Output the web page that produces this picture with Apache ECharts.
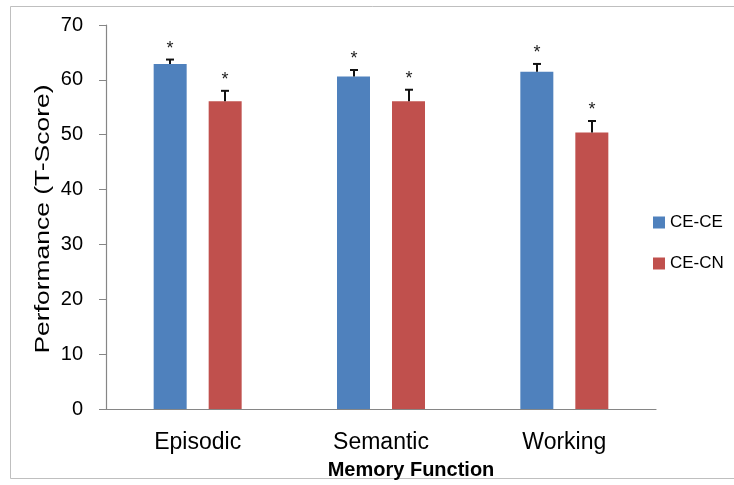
<!DOCTYPE html>
<html><head><meta charset="utf-8">
<script src="https://cdn.jsdelivr.net/npm/echarts@6/dist/echarts.min.js"></script>
<style>html,body{margin:0;padding:0;background:#fff}#c{width:734px;height:485px}</style>
</head><body><div id="c"></div>
<script>
var categories = ['Episodic', 'Semantic', 'Working'];
var seriesNames = ['CE-CE', 'CE-CN'];
var ceceValues = [62.9, 60.6, 61.5];
var ceceErrors = [0.8, 1.2, 1.4];
var cecnValues = [56.1, 56.1, 50.4];
var cecnErrors = [1.9, 2.1, 2.1];
var yTicks = [0, 10, 20, 30, 40, 50, 60, 70];
var yTitle = 'Performance (T-Score)';
var xTitle = 'Memory Function';

var blue = '#4F81BD', red = '#C0504D';
var BAR_W = 33, BAR_GAP = 22;
var chart = echarts.init(document.getElementById('c'));

function errSeries(vals, errs, idx) {
  return {
    type: 'custom',
    z: 10,
    silent: true,
    data: vals.map(function (v, i) { return [i, v, errs[i]]; }),
    renderItem: function (params, api) {
      var i = api.value(0), v = api.value(1), e = api.value(2);
      var center = api.coord([i, 0])[0];
      var off = (BAR_W + BAR_GAP) / 2 * (idx === 0 ? -1 : 1);
      var x = Math.round(center + off);
      var pTop = api.coord([i, v + e]);
      var pBase = api.coord([i, v]);
      return {
        type: 'group',
        children: [
          { type: 'line', shape: { x1: x, y1: pBase[1], x2: x, y2: pTop[1] }, style: { stroke: '#111', lineWidth: 2 } },
          { type: 'line', shape: { x1: x - 4, y1: pTop[1], x2: x + 4, y2: pTop[1] }, style: { stroke: '#111', lineWidth: 2 } },
          { type: 'text', style: { text: '*', x: x, y: pTop[1] - 11, fill: '#222', font: '18px "Liberation Sans"', align: 'center', verticalAlign: 'middle' } }
        ]
      };
    }
  };
}

chart.setOption({
  animation: false,
  textStyle: { fontFamily: '"Liberation Sans", Arial, sans-serif' },
  graphic: [
    { type: 'rect', shape: { x: 10.5, y: 6.5, width: 740, height: 472 }, style: { fill: 'none', stroke: '#bfbfbf', lineWidth: 1 }, silent: true },
    { type: 'text', x: 43, y: 219, rotation: Math.PI / 2, scaleX: 1.26, silent: true,
      style: { text: yTitle, font: '21px "Liberation Sans"', fill: '#000', align: 'center', verticalAlign: 'middle' } }
  ],
  grid: { left: 106, right: 78, top: 25, bottom: 76 },
  legend: {
    orient: 'vertical', left: 648, top: 209, itemGap: 24, itemWidth: 12, itemHeight: 12,
    icon: 'rect', textStyle: { fontSize: 17, color: '#000' },
    data: seriesNames
  },
  xAxis: {
    type: 'category', data: categories,
    axisLine: { lineStyle: { color: '#868686', width: 1.2 } },
    axisTick: { show: false },
    axisLabel: { fontSize: 23, color: '#000', margin: 22 },
    name: xTitle, nameLocation: 'middle', nameGap: 51,
    nameTextStyle: { fontSize: 20, fontWeight: 'bold', color: '#000', padding: [0, 0, 0, 60] }
  },
  yAxis: {
    type: 'value', min: 0, max: 70, interval: 10,
    axisLine: { show: true, lineStyle: { color: '#868686', width: 1.2 } },
    axisTick: { show: true, inside: false, length: 7, lineStyle: { color: '#868686' } },
    splitLine: { show: false },
    axisLabel: { fontSize: 20, color: '#000', margin: 23,
      formatter: function (v) { return yTicks.indexOf(v) >= 0 ? String(v) : ''; } }
  },
  series: [
    { name: seriesNames[0], type: 'bar', data: ceceValues, barWidth: BAR_W, barGap: (BAR_GAP / BAR_W * 100) + '%', itemStyle: { color: blue } },
    { name: seriesNames[1], type: 'bar', data: cecnValues, barWidth: BAR_W, barGap: (BAR_GAP / BAR_W * 100) + '%', itemStyle: { color: red } },
    errSeries(ceceValues, ceceErrors, 0),
    errSeries(cecnValues, cecnErrors, 1)
  ]
});
</script></body></html>
